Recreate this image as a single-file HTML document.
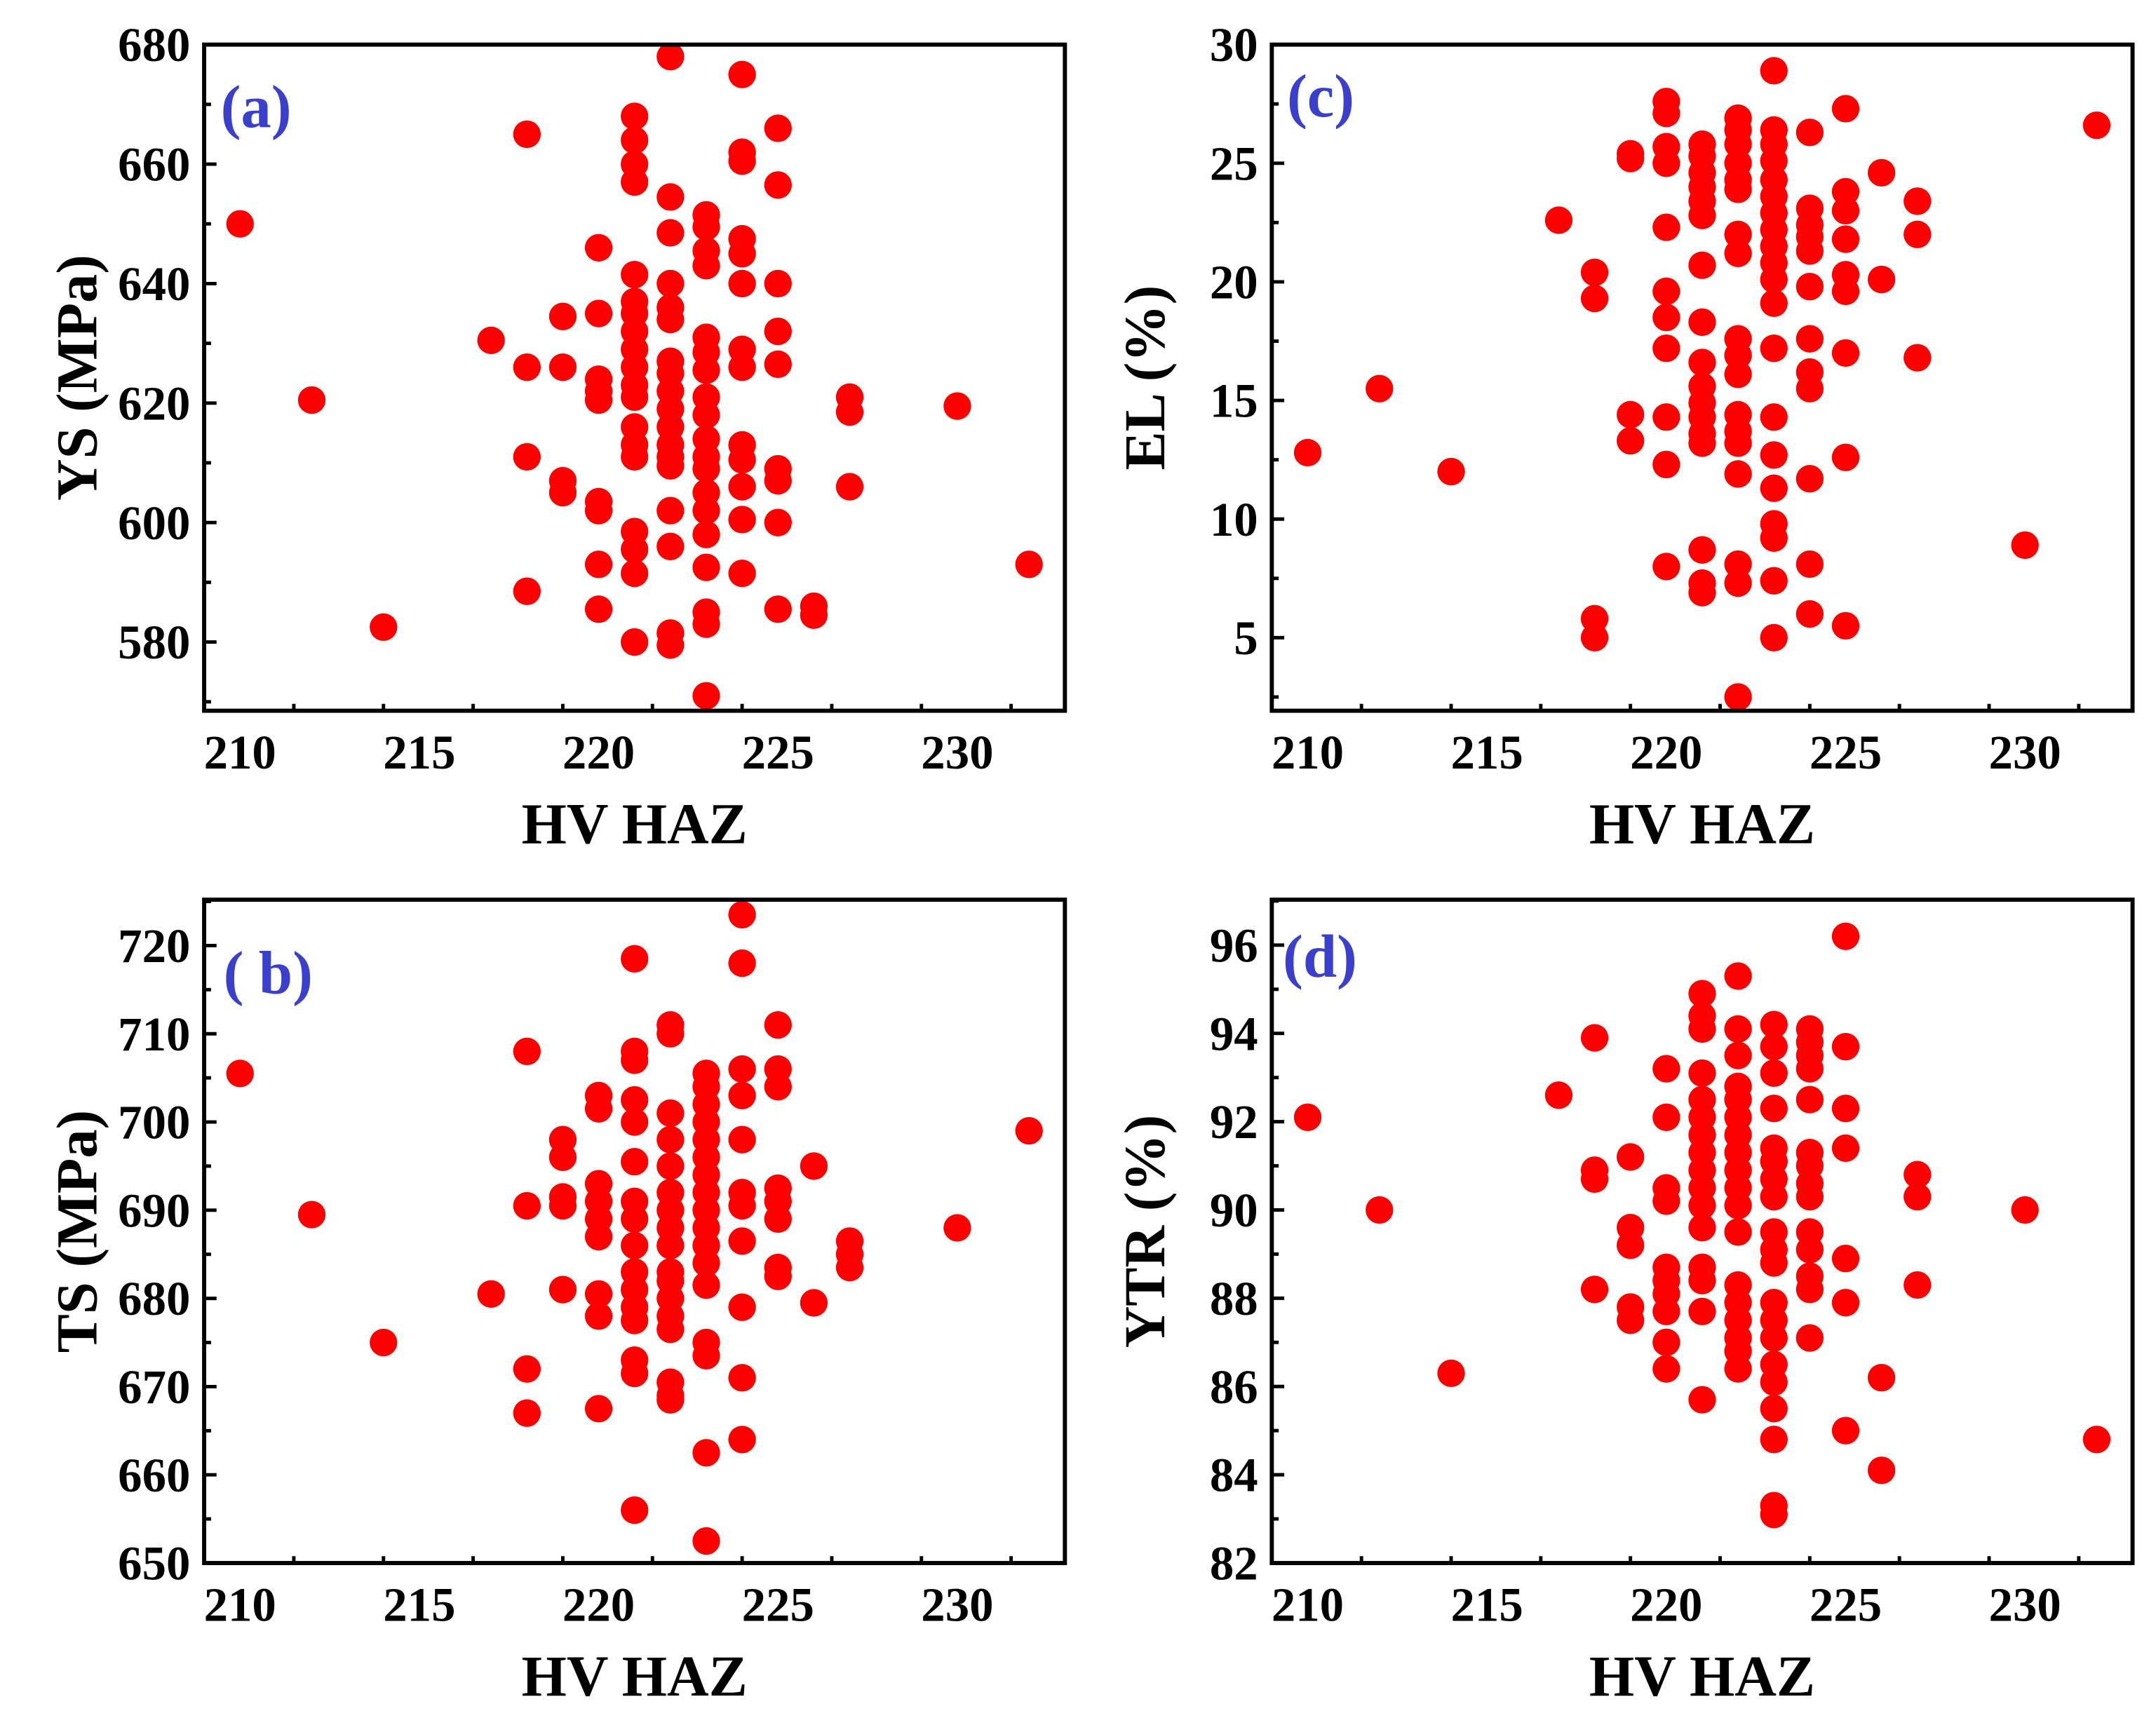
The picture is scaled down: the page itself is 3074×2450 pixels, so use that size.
<!DOCTYPE html>
<html><head><meta charset="utf-8"><style>
html,body{margin:0;padding:0;background:#fff;}
svg{display:block;}
svg text{font-family:"Liberation Serif","Times New Roman",Times,serif;font-weight:bold;}
</style></head><body>
<svg id="chart" width="3074" height="2450" viewBox="0 0 1563 1245" xmlns="http://www.w3.org/2000/svg" font-family="Liberation Serif, serif" font-weight="bold"></svg>
<script>
const xTicks = [210,215,220,225,230];
const ysX = [210,212,214,217,218,218,218,218,219,219,219,219,220,220,220,220,220,220,220,220,220,
221,221,221,221,221,221,221,221,221,221,221,221,221,221,221,221,221,221,221,
222,222,222,222,222,222,222,222,222,222,222,222,222,222,222,222,222,222,
223,223,223,223,223,223,223,223,223,223,223,223,223,223,223,223,223,223,223,
224,224,224,224,224,224,224,224,224,224,224,224,224,
225,225,225,225,225,225,225,225,225,226,226,227,227,227,230,232];
const ysY = [650,620.5,582.5,630.5,665,626,611,588.5,634.5,626,607,605,646,635,624,622,620.5,603.5,602,593,585.5,
668,664,660,657,641.5,637,635,632,629,626,623,621,616,613,611,598.5,595.5,591.5,580,
678,654.5,648.5,640,636,634,627,625,622,619,616,613,611,609.5,602,596,581.5,579.5,
651.5,649.5,645.5,643,631,628.5,625.5,621,618,614,611,609,605,602,598,592.5,585,583,571,
675,662,660.5,647.5,645,640,629,626,613,610.5,606,600.5,591.5,
666,656.5,640,632,626.5,609,607,600,585.5,586,584.5,621,618.5,606,619.5,593];
const ysTicks = [580,600,620,640,660,680];

const tsX = [210,212,214,217,218,218,218,218,219,219,219,219,219,220,220,220,220,220,220,220,220,220,
221,221,221,221,221,221,221,221,221,221,221,221,221,221,221,221,
222,222,222,222,222,222,222,222,222,222,222,222,222,222,222,222,222,
223,223,223,223,223,223,223,223,223,223,223,223,223,223,223,223,223,
224,224,224,224,224,224,224,224,224,224,224,
225,225,225,225,225,225,225,225,226,226,227,227,227,230,232];
const tsY = [705.5,689.5,675,680.5,708,690.5,672,667,698,696,691.5,690.5,681,703,701.5,693,691,689,687,680.5,678,667.5,
718.5,708,707,702.5,700,695.5,691,689,686,683,681,679,677.5,673,671.5,656,
711,710,701,698,695,692,690,688,686,683,682,680,678,676.5,670.5,669,668.5,
705.5,704,702,700,698,696,694,692,690,688,686,684,681.5,675,673.5,662.5,652.5,
723.5,718,706,703,698,692,690.5,686.5,679,671,664,
711,706,704,692.5,691,689,683.5,682.5,695,679.5,686.5,685,683.5,688,699];
const tsTicks = [650,660,670,680,690,700,710,720];

const elX = [210,212,214,217,218,218,218,218,219,219,219,219,220,220,220,220,220,220,220,220,220,220,220,
221,221,221,221,221,221,221,221,221,221,221,221,221,221,221,221,221,
222,222,222,222,222,222,222,222,222,222,222,222,222,222,222,222,222,222,
223,223,223,223,223,223,223,223,223,223,223,223,223,223,223,223,223,223,223,223,
224,224,224,224,224,224,224,224,224,224,224,224,
225,225,225,225,225,225,225,225,225,226,226,227,227,227,230,232];
const elY = [12.8,15.5,12,22.6,20.4,19.3,5.8,5,25.4,25.2,14.4,13.3,27.6,27.1,25.7,25,22.3,19.6,18.5,17.2,14.3,12.3,8,
25.8,25.3,24.6,24,23.4,22.8,20.7,18.3,16.6,15.6,14.9,14.3,13.6,13.2,8.7,7.3,6.9,
26.9,26.4,25.8,25,24.3,23.9,22,21.2,17.6,16.9,16.1,14.4,13.7,13.2,11.9,8.1,7.3,2.5,
28.9,26.4,25.8,25.1,24.3,23.6,22.9,22.2,21.5,20.8,20.1,19.1,17.2,14.3,12.7,11.3,9.8,9.2,7.4,5,
26.3,23.1,22.4,21.9,21.3,19.8,17.6,16.2,15.5,11.7,8.1,6,
27.3,23.8,23,21.8,20.3,19.6,17,12.6,5.5,24.6,20.1,23.4,22,16.8,8.9,26.6];
const elTicks = [5,10,15,20,25,30];

const ytrX = [210,212,214,217,218,218,218,218,219,219,219,219,219,220,220,220,220,220,220,220,220,220,220,
221,221,221,221,221,221,221,221,221,221,221,221,221,221,221,221,
222,222,222,222,222,222,222,222,222,222,222,222,222,222,222,222,222,222,
223,223,223,223,223,223,223,223,223,223,223,223,223,223,223,223,223,223,223,223,
224,224,224,224,224,224,224,224,224,224,224,224,224,224,
225,225,225,225,225,225,225,226,226,227,227,227,230,232];
const ytrY = [92.1,90,86.3,92.6,93.9,90.9,90.7,88.2,91.2,89.6,89.2,87.8,87.5,93.2,92.1,90.5,90.2,88.7,88.4,88.1,87.7,87,86.4,
94.9,94.4,94.1,93.1,92.5,92.1,91.7,91.3,90.9,90.5,90.1,89.6,88.7,88.4,87.7,85.7,
95.3,94.1,93.5,92.8,92.5,92.1,91.7,91.3,90.9,90.5,90.1,89.5,88.3,87.9,87.5,87.1,86.8,86.4,
94.2,93.7,93.1,92.3,91.4,91.1,90.7,90.3,89.5,89.1,88.8,87.9,87.5,87.1,86.5,86.1,85.5,84.8,83.3,83.1,
94.1,93.8,93.5,93.2,92.5,91.3,91,90.6,90.3,89.5,89.1,88.5,88.2,87.1,
96.2,93.7,92.3,91.4,88.9,87.9,85,86.2,84.1,90.8,90.3,88.3,90,84.8];
const ytrTicks = [82,84,86,88,90,92,94,96];

const NS = 'http://www.w3.org/2000/svg';
const svg = document.getElementById('chart');
const FF = '"Liberation Serif", "Times New Roman", serif';
function mk(tag, attrs, parent){
  const e = document.createElementNS(NS, tag);
  for (const k in attrs) e.setAttribute(k, attrs[k]);
  if (tag === 'text'){ e.style.fontFamily = FF; e.style.fontWeight = 'bold'; }
  (parent||svg).appendChild(e); return e;
}
function panel(cfg){
  const {id,L,T,R,B,xmin,xmax,ymin,ymax,xs,ys,yt,ylabel,tag,tagX,tagY} = cfg;
  const g = mk('g', {});
  
  
  const sx = v => L + (v - xmin) / (xmax - xmin) * (R - L);
  const sy = v => B - (v - ymin) / (ymax - ymin) * (B - T);
  const pg = mk('g', {}, g);
  
  
  for (let i = 0; i < xs.length; i++){
    const c = mk('circle', {cx: sx(xs[i]), cy: sy(ys[i]), r: 10, fill: '#ff0000'}, pg);
    
    
  }
  const f = mk('rect', {x: L, y: T, width: R - L, height: B - T, fill: 'none', stroke: '#000', 'stroke-width': 3}, g);
  
  
  const xa = mk('g', {}, g);
  
  
  for (let v = Math.ceil(xmin*2)/2; v <= xmax; v += 2.5){
    const major = v % 5 === 0;
    mk('line', {x1: sx(v), x2: sx(v), y1: B, y2: B - (major ? 9 : 5), stroke: '#000', 'stroke-width': 2.5}, xa);
  }
  xTicks.forEach(v => {
    const t = mk('text', {x: sx(v), y: B + 42, 'font-size': 35, 'text-anchor': 'middle'}, xa);
    t.textContent = v;
    
    
  });
  const xt = mk('text', {x: (L + R) / 2, y: B + 96, 'font-size': 42, 'text-anchor': 'middle'}, xa);
  xt.textContent = 'HV HAZ';
  
  
  const ya = mk('g', {}, g);
  
  
  const step = yt[1] - yt[0];
  for (let v = yt[0] - step; v <= ymax + 1e-9; v += step / 2){
    if (v < ymin - 1e-9) continue;
    const major = Math.abs(((v - yt[0]) / step) - Math.round((v - yt[0]) / step)) < 1e-6;
    mk('line', {x1: L, x2: L + (major ? 9 : 5), y1: sy(v), y2: sy(v), stroke: '#000', 'stroke-width': 2.5}, ya);
  }
  yt.forEach(v => {
    const t = mk('text', {x: L - 10, y: sy(v) + 12, 'font-size': 35, 'text-anchor': 'end'}, ya);
    t.textContent = v;
    
    
  });
  const cy = (T + B) / 2;
  const yl = mk('text', {x: L - 92, y: cy, 'font-size': 42, 'text-anchor': 'middle', transform: `rotate(-90 ${L-92} ${cy})`, dy: 14}, ya);
  yl.textContent = ylabel;
  
  
  const pl = mk('text', {x: tagX, y: tagY, 'font-size': 44, fill: '#3a3fcc'}, g);
  pl.textContent = tag;
  
  
}
panel({id:'a', L:148, T:32, R:772, B:515, xmin:209, xmax:233, ymin:568.5, ymax:680, xs:ysX, ys:ysY, yt:ysTicks, ylabel:'YS (MPa)', tag:'(a)', tagX:160, tagY:92});
panel({id:'c', L:922, T:32, R:1546, B:515, xmin:209, xmax:233, ymin:1.92, ymax:30, xs:elX, ys:elY, yt:elTicks, ylabel:'EL (%)', tag:'(c)', tagX:933, tagY:84});
panel({id:'b', L:148, T:652, R:772, B:1133, xmin:209, xmax:233, ymin:650, ymax:725.2, xs:tsX, ys:tsY, yt:tsTicks, ylabel:'TS (MPa)', tag:'( b)', tagX:162, tagY:720});
panel({id:'d', L:922, T:652, R:1546, B:1133, xmin:209, xmax:233, ymin:82, ymax:97.03, xs:ytrX, ys:ytrY, yt:ytrTicks, ylabel:'YTR (%)', tag:'(d)', tagX:930, tagY:708});
</script>
</body></html>
